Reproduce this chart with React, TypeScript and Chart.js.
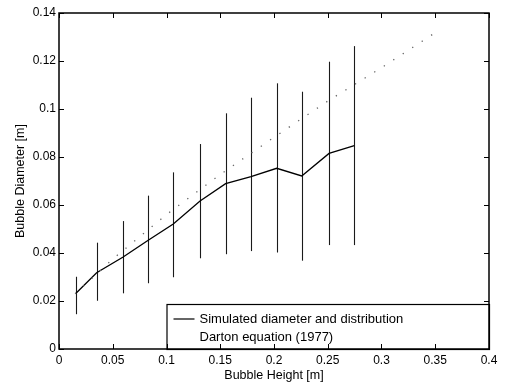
import React, { useEffect, useRef } from "react";
import { Chart, registerables } from "chart.js";

Chart.register(...registerables);

// Simulated bubble diameter (mean) and its distribution range
const bubbleHeights = [0.0158, 0.035, 0.0593, 0.083, 0.1063, 0.1312, 0.155, 0.1786, 0.2025, 0.2258, 0.2512, 0.2747];
const meanDiameter = [0.0232, 0.0318, 0.0382, 0.0453, 0.0521, 0.0617, 0.0689, 0.0718, 0.0753, 0.0721, 0.0815, 0.0847];
const diameterMax = [0.0301, 0.0443, 0.0533, 0.0639, 0.0736, 0.0854, 0.0982, 0.1047, 0.1107, 0.1072, 0.1197, 0.1262];
const diameterMin = [0.0145, 0.0201, 0.0232, 0.0274, 0.0299, 0.0378, 0.0395, 0.0408, 0.0402, 0.0368, 0.0433, 0.0433];

// Darton equation (1977)
const dartonHeights = [0.015, 0.05, 0.1, 0.15, 0.2, 0.25, 0.3, 0.35];
const dartonDiameter = [0.023, 0.0375, 0.056, 0.0727, 0.0882, 0.1033, 0.1172, 0.1318];

const xTicks = [0, 0.05, 0.1, 0.15, 0.2, 0.25, 0.3, 0.35, 0.4];
const yTicks = [0, 0.02, 0.04, 0.06, 0.08, 0.1, 0.12, 0.14];

const legendLabels = ["Simulated diameter and distribution", "Darton equation (1977)"];

const FONT = "'Liberation Sans', Arial, Helvetica, sans-serif";

const fmt = (v: number) => String(Number(v.toFixed(4)));

const decorPlugin = {
  id: "decor",
  beforeDatasetsDraw(chart: any) {
    const { ctx, scales } = chart;
    const xs = scales.x;
    const ys = scales.y;
    ctx.save();
    ctx.strokeStyle = "#1a1a1a";
    ctx.lineWidth = 1.1;
    bubbleHeights.forEach((h, i) => {
      const px = Math.round(xs.getPixelForValue(h)) + 0.5;
      ctx.beginPath();
      ctx.moveTo(px, ys.getPixelForValue(diameterMin[i]));
      ctx.lineTo(px, ys.getPixelForValue(diameterMax[i]));
      ctx.stroke();
    });
    ctx.restore();
  },
  afterDraw(chart: any) {
    const { ctx, chartArea, scales } = chart;
    const { left, right, top, bottom } = chartArea;
    const xs = scales.x;
    const ys = scales.y;
    ctx.save();
    // legend box
    const lx = xs.getPixelForValue(0.1);
    const ly = ys.getPixelForValue(0.01875);
    ctx.fillStyle = "#fff";
    ctx.fillRect(lx, ly, right - lx, bottom - ly);
    ctx.strokeStyle = "#000";
    ctx.lineWidth = 1.2;
    ctx.strokeRect(lx + 0.5, ly + 0.5, right - lx, bottom - ly);
    ctx.font = `13px ${FONT}`;
    ctx.fillStyle = "#000";
    ctx.textBaseline = "middle";
    ctx.textAlign = "left";
    const row1 = ly + 15;
    const row2 = ly + 33;
    ctx.beginPath();
    ctx.lineWidth = 1.2;
    ctx.moveTo(lx + 7, row1);
    ctx.lineTo(lx + 28, row1);
    ctx.stroke();
    ctx.fillText(legendLabels[0], lx + 33, row1);
    ctx.fillText(legendLabels[1], lx + 33, row2);

    // frame
    ctx.strokeStyle = "#000";
    ctx.lineWidth = 1.5;
    ctx.strokeRect(left, top, right - left, bottom - top);

    // inward ticks on all sides
    ctx.lineWidth = 1;
    const tl = 5;
    xTicks.forEach((v) => {
      const px = Math.round(xs.getPixelForValue(v)) + 0.5;
      ctx.beginPath();
      ctx.moveTo(px, bottom);
      ctx.lineTo(px, bottom - tl);
      ctx.moveTo(px, top);
      ctx.lineTo(px, top + tl);
      ctx.stroke();
    });
    yTicks.forEach((v) => {
      const py = Math.round(ys.getPixelForValue(v)) + 0.5;
      ctx.beginPath();
      ctx.moveTo(left, py);
      ctx.lineTo(left + tl, py);
      ctx.moveTo(right, py);
      ctx.lineTo(right - tl, py);
      ctx.stroke();
    });
    ctx.restore();
  },
};

export default function App() {
  const canvasRef = useRef<HTMLCanvasElement | null>(null);

  useEffect(() => {
    if (!canvasRef.current) return;
    Chart.defaults.font.family = FONT;
    Chart.defaults.font.size = 12;
    Chart.defaults.color = "#000";
    const chart = new Chart(canvasRef.current, {
      type: "line",
      data: {
        datasets: [
          {
            label: legendLabels[1],
            data: dartonHeights.map((h, i) => ({ x: h, y: dartonDiameter[i] })),
            borderColor: "#666",
            borderWidth: 1.3,
            borderDash: [1.3, 10],
            pointRadius: 0,
            fill: false,
          },
          {
            label: legendLabels[0],
            data: bubbleHeights.map((h, i) => ({ x: h, y: meanDiameter[i] })),
            borderColor: "#000",
            borderWidth: 1.3,
            pointRadius: 0,
            fill: false,
          },
        ],
      },
      options: {
        animation: false,
        responsive: false,
        layout: { padding: { top: 13, right: 19, left: 0, bottom: 0 } },
        plugins: {
          legend: { display: false },
          tooltip: { enabled: false },
        },
        scales: {
          x: {
            type: "linear",
            min: 0,
            max: 0.4,
            afterBuildTicks: (s: any) => {
              s.ticks = xTicks.map((v) => ({ value: v }));
            },
            afterFit: (s: any) => {
              s.height = 36;
            },
            ticks: {
              padding: 4,
              maxRotation: 0,
              autoSkip: false,
              font: { size: 12 },
              callback: (v: any) => fmt(Number(v)),
            },
            grid: { display: false, drawTicks: false },
            border: { display: false },
            title: {
              display: true,
              text: "Bubble Height [m]",
              font: { size: 12.5 },
              padding: { top: 0, bottom: 1.5 },
            },
          },
          y: {
            type: "linear",
            min: 0,
            max: 0.14,
            afterBuildTicks: (s: any) => {
              s.ticks = yTicks.map((v) => ({ value: v }));
            },
            afterFit: (s: any) => {
              s.width = 59;
            },
            ticks: {
              padding: 3,
              autoSkip: false,
              font: { size: 12 },
              callback: (v: any) => fmt(Number(v)),
            },
            grid: { display: false, drawTicks: false },
            border: { display: false },
            title: {
              display: true,
              text: "Bubble Diameter [m]",
              font: { size: 12.5 },
              padding: { top: 13, bottom: 0 },
            },
          },
        },
      },
      plugins: [decorPlugin],
    });
    return () => chart.destroy();
  }, []);

  return (
    <div style={{ position: "absolute", left: 0, top: 0, width: 508, height: 385, background: "#fff" }}>
      <canvas ref={canvasRef} width={508} height={385} style={{ display: "block" }} />
    </div>
  );
}
